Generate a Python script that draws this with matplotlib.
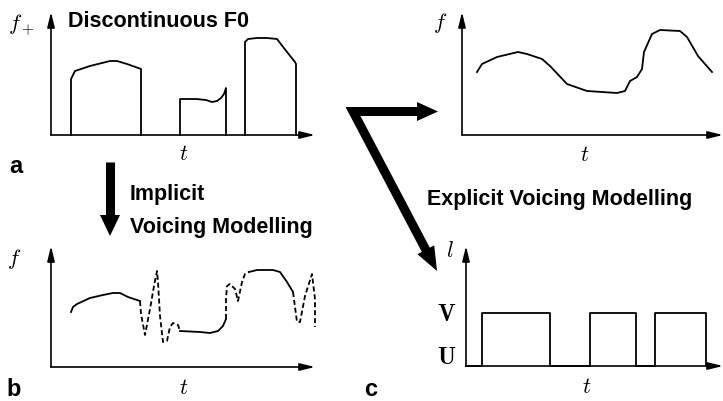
import matplotlib
matplotlib.use('Agg')
import matplotlib.pyplot as plt
import numpy as np
from matplotlib.patches import Polygon

plt.rcParams['mathtext.fontset'] = 'cm'

# --- values (t, f in pixel-like units from each origin) ---
# panel a: discontinuous F0, three voiced segments
a_seg1_t = [20, 20, 24, 39, 59, 66, 76, 90, 90]
a_seg1_f = [0, 56, 64, 69, 74, 74, 71, 66, 0]
a_seg2_t = [129, 129, 145, 155, 161, 166, 170, 173, 175, 175]
a_seg2_f = [0, 36, 36, 35, 33, 34, 37, 41, 47, 0]
a_seg3_t = [194, 194, 197, 206, 216, 226, 236, 244, 245, 245]
a_seg3_f = [0, 93, 96, 97, 97, 96, 83, 73, 71, 0]

# panel b: implicit voicing, solid = voiced, dashed = unvoiced filler
b_solid1_t = [20, 22, 26, 39, 52, 62, 69, 77, 89]
b_solid1_f = [55, 60, 63, 69, 72, 74, 74, 70, 66]
b_dash1_t = [89, 90, 94, 99, 103, 106, 107, 109, 112, 116, 119, 122, 127, 129]
b_dash1_f = [66, 53, 32, 58, 81, 96, 85, 51, 25, 26, 40, 44, 42, 36]
b_solid2_t = [129, 149, 159, 167, 172, 175]
b_solid2_f = [36, 35, 34, 36, 41, 48]
b_dash2_t = [175, 175, 176, 179, 184, 187, 191, 194, 198]
b_dash2_f = [48, 68, 81, 83, 78, 66, 85, 93, 95]
b_solid3_t = [198, 206, 214, 222, 229, 236, 242]
b_solid3_f = [95, 97, 97, 97, 95, 85, 75]
b_dash3_t = [242, 246, 249, 254, 261, 264, 264]
b_dash3_f = [75, 45, 45, 71, 93, 68, 40]

# top right: continuous F0
d_t = [15, 20, 35, 56, 65, 80, 88, 105, 125, 155, 163, 168, 175, 180, 182, 190, 198, 218, 225, 236, 250]
d_f = [63, 71, 78, 83, 81, 76, 69, 51, 44, 42, 44, 54, 58, 66, 83, 101, 105, 104, 98, 79, 63]

# panel c: voicing decision
v_start = [16, 124, 189]
v_end = [84, 170, 240]
v_level = 53

W, H = 723, 402
fig = plt.figure(figsize=(W / 100, H / 100), dpi=100)

def panel(x0, y0, w, h):
    ax = fig.add_axes([x0 / W, (H - y0) / H, w / W, h / H])
    ax.set_xlim(0, w)
    ax.set_ylim(0, h)
    ax.axis('off')
    props = dict(arrowstyle='-|>,head_length=0.9,head_width=0.22', color='k',
                 lw=1.2, shrinkA=0, shrinkB=0)
    ax.annotate('', xy=(w, 0), xytext=(0, 0), arrowprops=props, annotation_clip=False)
    ax.annotate('', xy=(0, h), xytext=(0, 0), arrowprops=props, annotation_clip=False)
    return ax

math_kw = dict(fontsize=16, ha='center', va='center')
curve_kw = dict(color='k', lw=1.3, clip_on=False)
dash_kw = dict(color='k', lw=1.3, clip_on=False, linestyle=(0, (2.8, 1.6)))

# panel a
ax_a = panel(51, 136, 264, 123)
for t, f in [(a_seg1_t, a_seg1_f), (a_seg2_t, a_seg2_f), (a_seg3_t, a_seg3_f)]:
    ax_a.plot(t, f, **curve_kw)
ax_a.text(-30, 110, r'$f_+$', **math_kw)
ax_a.text(133, -18, r'$t$', **math_kw)

# panel b
ax_b = panel(51, 368, 264, 121)
for t, f in [(b_solid1_t, b_solid1_f), (b_solid2_t, b_solid2_f), (b_solid3_t, b_solid3_f)]:
    ax_b.plot(t, f, **curve_kw)
for t, f in [(b_dash1_t, b_dash1_f), (b_dash2_t, b_dash2_f), (b_dash3_t, b_dash3_f)]:
    ax_b.plot(t, f, **dash_kw)
ax_b.text(-37, 109, r'$f$', **math_kw)
ax_b.text(133, -20, r'$t$', **math_kw)

# top right
ax_d = panel(462, 136, 261, 123)
ax_d.plot(d_t, d_f, **curve_kw)
ax_d.text(-22, 113, r'$f$', **math_kw)
ax_d.text(123, -19, r'$t$', **math_kw)

# panel c
ax_c = panel(466, 367, 257, 120)
step_t, step_f = [0], [0]
for s, e in zip(v_start, v_end):
    step_t += [s, s, e, e]
    step_f += [0, v_level, v_level, 0]
ax_c.plot(step_t, step_f, **curve_kw)
ax_c.text(-19, v_level, r'$\mathbf{V}$', fontsize=17, ha='center', va='center')
ax_c.text(-19, 10, r'$\mathbf{U}$', fontsize=17, ha='center', va='center')
ax_c.text(-16, 116, r'$l$', **math_kw)
ax_c.text(121, -20, r'$t$', **math_kw)

# overlay for arrows and bold labels (pixel coords)
ov = fig.add_axes([0, 0, 1, 1])
ov.set_xlim(0, W)
ov.set_ylim(H, 0)
ov.axis('off')

def head(tip, towards, length, width):
    tip = np.array(tip, float)
    d = tip - np.array(towards, float)
    d /= np.hypot(*d)
    n = np.array([-d[1], d[0]])
    base = tip - d * length
    ov.add_patch(Polygon([tip, base + n * width / 2, base - n * width / 2],
                         closed=True, color='k', lw=0))
    return base

# implicit arrow
b1 = head((110, 237), (110, 163), 21, 20)
ov.plot([110, 110], [163, b1[1] + 1], color='k', lw=6.5, solid_capstyle='butt')

# explicit bent arrow
vert = (353, 112.5)
b2 = head((438, 112.5), vert, 21, 19)
b3 = head((437, 272), vert, 24, 19)
ov.plot([b2[0] + 1, vert[0], b3[0] + 0.3], [b2[1], vert[1], b3[1] + 0.6],
        color='k', lw=6.5, solid_joinstyle='miter', solid_capstyle='butt')

bold = dict(family='Liberation Sans', fontweight='bold', va='baseline', ha='left')
ov.text(68, 27, 'Discontinuous F0', fontsize=15.5, **bold)
ov.text(130, 200, 'Implicit', fontsize=15.5, **bold)
ov.text(130, 233, 'Voicing Modelling', fontsize=15.5, **bold)
ov.text(427, 205, 'Explicit Voicing Modelling', fontsize=15.5, **bold)
ov.text(9, 173, 'a', fontsize=17, **bold)
ov.text(6, 396, 'b', fontsize=17, **bold)
ov.text(364, 396, 'c', fontsize=17, **bold)

fig.savefig('out.png', dpi=100)
